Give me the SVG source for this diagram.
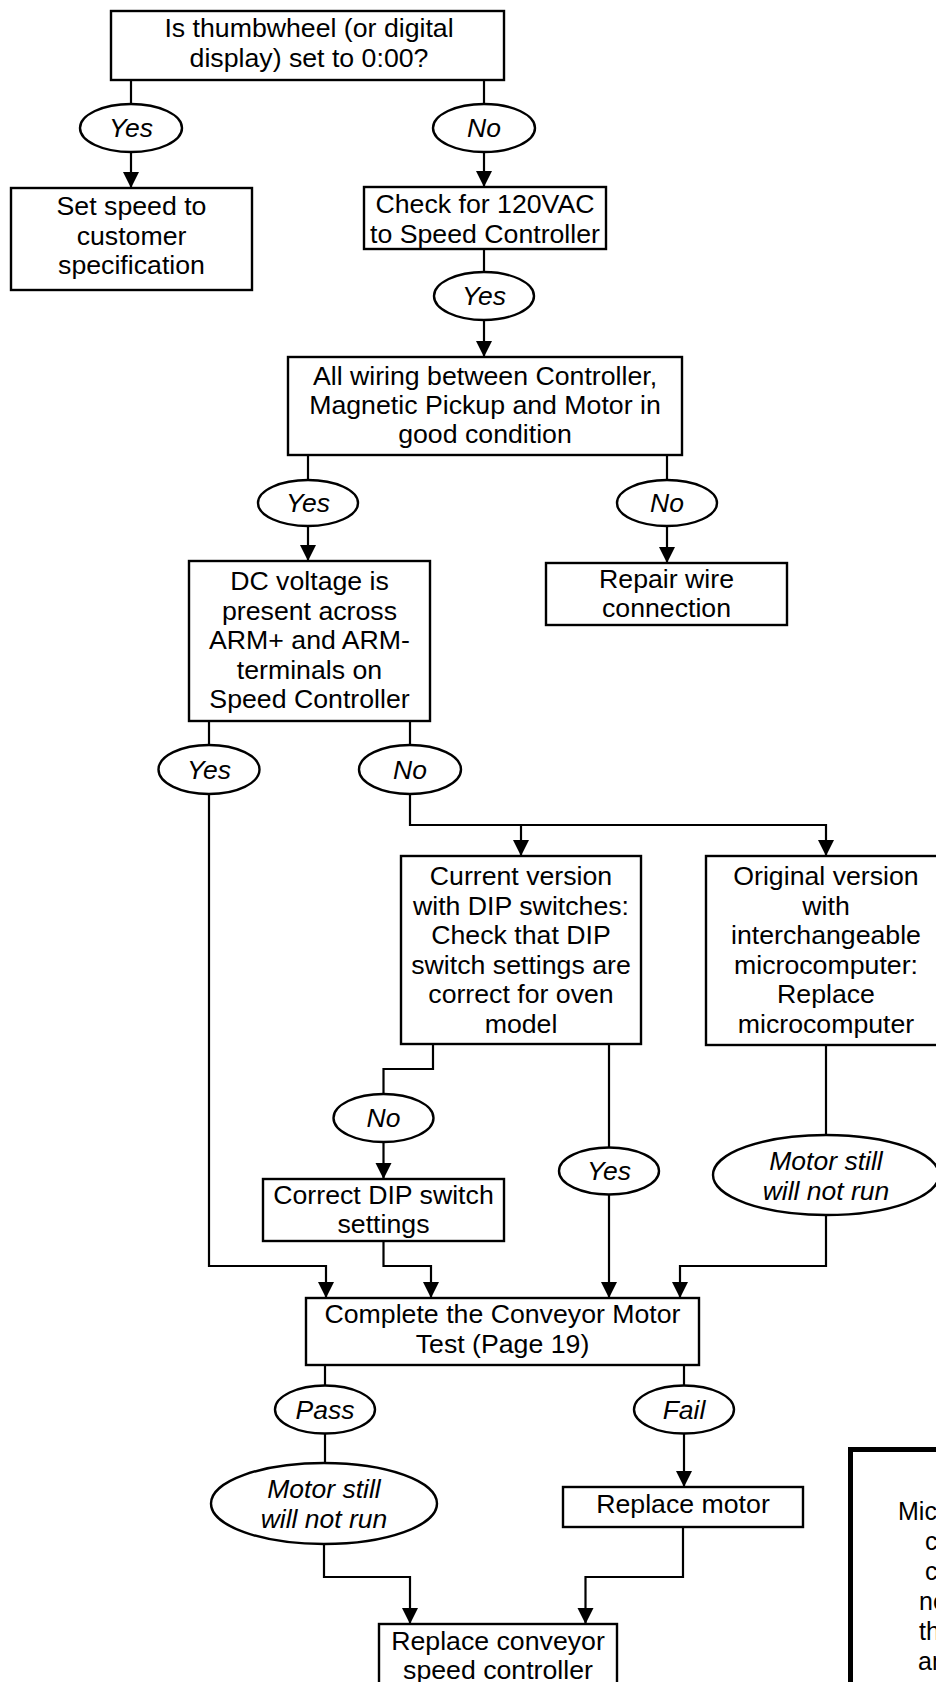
<svg xmlns="http://www.w3.org/2000/svg" width="936" height="1682" viewBox="0 0 936 1682">
<style>
.box{fill:#fff;stroke:#000;stroke-width:2.4}
.lbl{fill:#fff;stroke:#000;stroke-width:2.4}
.t{font-family:"Liberation Sans",Arial,sans-serif;font-size:26.7px;fill:#000;text-anchor:middle}
.i{font-family:"Liberation Sans",Arial,sans-serif;font-size:26.5px;font-style:italic;fill:#000;text-anchor:middle}
.c{fill:none;stroke:#000;stroke-width:2.2}
.ca{fill:none;stroke:#000;stroke-width:2.2;marker-end:url(#ah)}
.note{font-family:"Liberation Sans",Arial,sans-serif;font-size:25px;fill:#000}
</style>
<defs>
<marker id="ah" markerUnits="userSpaceOnUse" markerWidth="16" markerHeight="18" viewBox="0 0 16 18" refX="16" refY="8" orient="auto">
<path d="M0,0 L16,8 L0,16 Z" fill="#000"/>
</marker>
</defs>
<rect width="936" height="1682" fill="#fff"/>
<g id="connectors">
<path class="c" d="M131,80 V104"/>
<path class="ca" d="M131,152 V188"/>
<path class="c" d="M484,80 V104"/>
<path class="ca" d="M484,152 V187"/>
<path class="c" d="M484,249 V272"/>
<path class="ca" d="M484,320 V357"/>
<path class="c" d="M308,455 V480"/>
<path class="ca" d="M308,526 V561"/>
<path class="c" d="M667,455 V480"/>
<path class="ca" d="M667,526 V563"/>
<path class="c" d="M209,721 V745"/>
<path class="c" d="M410,721 V745"/>
<path class="ca" d="M209,794 V1266 H326 V1298"/>
<path class="ca" d="M410,794 V825 H826 V856"/>
<path class="ca" d="M521,825 V856"/>
<path class="c" d="M433,1044 V1069 H383.5 V1094"/>
<path class="ca" d="M383.5,1142 V1179"/>
<path class="ca" d="M383.5,1242 V1266 H431 V1298"/>
<path class="c" d="M609,1044 V1148"/>
<path class="ca" d="M609,1194 V1298"/>
<path class="c" d="M826,1045 V1135"/>
<path class="ca" d="M826,1215 V1266 H680 V1298"/>
<path class="c" d="M325,1365 V1386"/>
<path class="c" d="M684,1365 V1386"/>
<path class="c" d="M325,1433 V1463"/>
<path class="ca" d="M684,1433 V1487"/>
<path class="ca" d="M324,1544 V1577 H410 V1624"/>
<path class="ca" d="M683,1527 V1577 H585.5 V1624"/>
</g>
<g id="n-thumbwheel">
<rect class="box" x="111" y="11" width="393" height="69"/>
<text class="t" x="309" y="37">Is thumbwheel (or digital</text>
<text class="t" x="309" y="67">display) set to 0:00?</text>
</g>
<g id="l-yes1"><ellipse class="lbl" cx="131" cy="128" rx="51" ry="24"/><text class="i" x="131" y="137">Yes</text></g>
<g id="l-no1"><ellipse class="lbl" cx="484" cy="128" rx="51" ry="24"/><text class="i" x="484" y="137">No</text></g>
<g id="n-setspeed">
<rect class="box" x="11" y="188" width="241" height="102"/>
<text class="t" x="131.5" y="214.5">Set speed to</text>
<text class="t" x="131.5" y="244.5">customer</text>
<text class="t" x="131.5" y="274">specification</text>
</g>
<g id="n-check120">
<rect class="box" x="364" y="187" width="242" height="62"/>
<text class="t" x="485" y="213">Check for 120VAC</text>
<text class="t" x="485" y="242.5">to Speed Controller</text>
</g>
<g id="l-yes2"><ellipse class="lbl" cx="484" cy="296" rx="50" ry="24"/><text class="i" x="484" y="305">Yes</text></g>
<g id="n-wiring">
<rect class="box" x="288" y="357" width="394" height="98"/>
<text class="t" x="485" y="385">All wiring between Controller,</text>
<text class="t" x="485" y="414">Magnetic Pickup and Motor in</text>
<text class="t" x="485" y="443">good condition</text>
</g>
<g id="l-yes3"><ellipse class="lbl" cx="308" cy="503" rx="50" ry="23"/><text class="i" x="308" y="512">Yes</text></g>
<g id="l-no3"><ellipse class="lbl" cx="667" cy="503" rx="50" ry="23"/><text class="i" x="667" y="512">No</text></g>
<g id="n-repairwire">
<rect class="box" x="546" y="563" width="241" height="62"/>
<text class="t" x="666.5" y="588">Repair wire</text>
<text class="t" x="666.5" y="617">connection</text>
</g>
<g id="n-dcvoltage">
<rect class="box" x="189" y="561" width="241" height="160"/>
<text class="t" x="309.5" y="590">DC voltage is</text>
<text class="t" x="309.5" y="619.5">present across</text>
<text class="t" x="309.5" y="649">ARM+ and ARM-</text>
<text class="t" x="309.5" y="678.5">terminals on</text>
<text class="t" x="309.5" y="708">Speed Controller</text>
</g>
<g id="l-yes4"><ellipse class="lbl" cx="209" cy="769.5" rx="50.5" ry="24.5"/><text class="i" x="209" y="778.5">Yes</text></g>
<g id="l-no4"><ellipse class="lbl" cx="410" cy="769.5" rx="51" ry="24.5"/><text class="i" x="410" y="778.5">No</text></g>
<g id="n-current">
<rect class="box" x="401" y="856" width="240" height="188"/>
<text class="t" x="521" y="885">Current version</text>
<text class="t" x="521" y="914.5">with DIP switches:</text>
<text class="t" x="521" y="944">Check that DIP</text>
<text class="t" x="521" y="973.5">switch settings are</text>
<text class="t" x="521" y="1003">correct for oven</text>
<text class="t" x="521" y="1032.5">model</text>
</g>
<g id="n-original">
<rect class="box" x="706" y="856" width="240" height="189"/>
<text class="t" x="826" y="885">Original version</text>
<text class="t" x="826" y="914.5">with</text>
<text class="t" x="826" y="944">interchangeable</text>
<text class="t" x="826" y="973.5">microcomputer:</text>
<text class="t" x="826" y="1003">Replace</text>
<text class="t" x="826" y="1032.5">microcomputer</text>
</g>
<g id="l-no5"><ellipse class="lbl" cx="383.5" cy="1118" rx="50" ry="24"/><text class="i" x="383.5" y="1127">No</text></g>
<g id="l-yes5"><ellipse class="lbl" cx="609" cy="1171" rx="50" ry="23.5"/><text class="i" x="609" y="1180">Yes</text></g>
<g id="l-motor1">
<ellipse class="lbl" cx="826" cy="1175" rx="113" ry="40"/>
<text class="i" x="826" y="1169.5">Motor still</text>
<text class="i" x="826" y="1199.5">will not run</text>
</g>
<g id="n-correctdip">
<rect class="box" x="263" y="1179" width="241" height="62"/>
<text class="t" x="383.5" y="1204">Correct DIP switch</text>
<text class="t" x="383.5" y="1233">settings</text>
</g>
<g id="n-complete">
<rect class="box" x="306" y="1298" width="393" height="67"/>
<text class="t" x="502.5" y="1323">Complete the Conveyor Motor</text>
<text class="t" x="502.5" y="1353">Test (Page 19)</text>
</g>
<g id="l-pass"><ellipse class="lbl" cx="325" cy="1409.5" rx="50" ry="24"/><text class="i" x="325" y="1418.5">Pass</text></g>
<g id="l-fail"><ellipse class="lbl" cx="684" cy="1409.5" rx="50" ry="24"/><text class="i" x="684" y="1418.5">Fail</text></g>
<g id="l-motor2">
<ellipse class="lbl" cx="324" cy="1503.5" rx="113" ry="40.5"/>
<text class="i" x="324" y="1498">Motor still</text>
<text class="i" x="324" y="1528">will not run</text>
</g>
<g id="n-replacemotor">
<rect class="box" x="563" y="1487" width="240" height="40"/>
<text class="t" x="683" y="1512.5">Replace motor</text>
</g>
<g id="n-replaceconveyor">
<rect class="box" x="379" y="1624" width="238" height="90"/>
<text class="t" x="498" y="1650">Replace conveyor</text>
<text class="t" x="498" y="1679">speed controller</text>
</g>
<g id="n-note">
<rect x="850.5" y="1449.5" width="300" height="400" fill="#fff" stroke="#000" stroke-width="5"/>
<text class="note" x="898" y="1520">Mic</text>
<text class="note" x="925" y="1550">c</text>
<text class="note" x="925" y="1580">c</text>
<text class="note" x="919" y="1610">ne</text>
<text class="note" x="919" y="1640">th</text>
<text class="note" x="918" y="1670">an</text>
</g>
</svg>
